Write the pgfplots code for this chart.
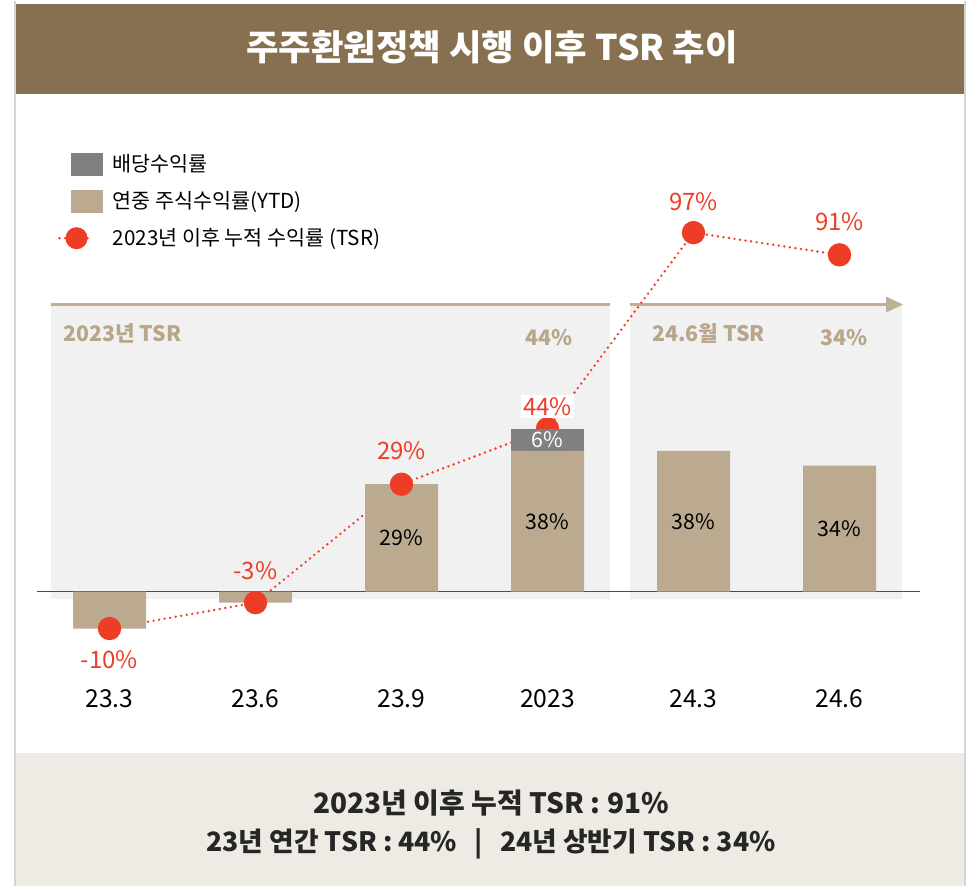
\documentclass[border=0pt]{standalone}
\usepackage{pgfplots}
\pgfplotsset{compat=1.18}
\usepackage{fontspec}
\setmainfont{Noto Sans CJK KR}
\definecolor{banner}{HTML}{87704F}
\definecolor{tanbar}{HTML}{BBAA90}
\definecolor{divgrey}{HTML}{808080}
\definecolor{tsrred}{HTML}{EE3D26}
\definecolor{panel}{HTML}{F1F1F1}
\definecolor{paneltext}{HTML}{B8A68A}
\definecolor{bottombox}{HTML}{EEEBE5}
\definecolor{arrowtan}{HTML}{C0AF95}
\definecolor{framegrey}{HTML}{D4D4D4}
\begin{document}
\begin{tikzpicture}
\begin{scope}[x=0.75pt,y=-0.75pt]
\path (0,0) rectangle (975,885);
\fill[banner] (15,3) rectangle (965,93);
\node[text=white, font=\fontsize{26.5}{31}\selectfont\bfseries] at (492,47) {주주환원정책 시행 이후 TSR 추이};
\fill[bottombox] (15,752) rectangle (965,885);
\draw[framegrey, line width=0.8pt] (15,0)--(15,885) (965,0)--(965,885);
\fill[panel] (51,305) rectangle (610,598);
\fill[panel] (630,305) rectangle (902,598);
\draw[arrowtan, line width=2.2pt] (51,304)--(610,304);
\draw[arrowtan, line width=2.2pt] (630,304)--(890,304);
\fill[arrowtan] (886,296)--(903,304)--(886,312)--cycle;
\node[anchor=west, inner sep=0pt, text=paneltext, font=\fontsize{16}{19}\selectfont\bfseries] at (63,333) {2023년 TSR};
\node[text=paneltext, font=\fontsize{16}{19}\selectfont\bfseries] at (549,337) {44\%};
\node[anchor=west, inner sep=0pt, text=paneltext, font=\fontsize{16}{19}\selectfont\bfseries] at (652,333) {24.6월 TSR};
\node[text=paneltext, font=\fontsize{16}{19}\selectfont\bfseries] at (844,337) {34\%};
\draw[black!70, line width=1.1pt] (37,591)--(920,591);
\node[text=black!85, font=\fontsize{21}{25}\selectfont\bfseries] at (491,802) {2023년 이후 누적 TSR : 91\%};
\node[text=black!85, font=\fontsize{20}{24}\selectfont\bfseries] at (491,843) {23년 연간 TSR : 44\%\hspace{13pt}|\hspace{13pt}24년 상반기 TSR : 34\%};
\end{scope}
\begin{axis}[
  at={(11.25pt,-564pt)}, anchor=south west,
  scale only axis, width=712.5pt, height=494.25pt,
  xmin=-0.6473, xmax=5.8596, ymin=-43.51, ymax=134.59,
  ybar stacked, bar width=54.75pt,
  axis line style={draw=none},
  ytick=\empty,
  xtick={0,1,2,3,4,5},
  xticklabels={23.3,23.6,23.9,2023,24.3,24.6},
  major tick length=0pt,
  xticklabel style={anchor=center, yshift=40.5pt, font=\fontsize{18.5}{22}\selectfont, text=black},
  clip=false,
  legend cell align=left,
  legend style={at={(0.05895,0.91047)}, anchor=north west, draw=none, fill=none,
    inner sep=0pt, row sep=11pt,
    nodes={inner sep=0pt, font=\fontsize{15.5}{18}\selectfont},
    /tikz/every odd column/.append style={column sep=7.5pt}},
]
\addlegendimage{legend image code/.code={\fill[divgrey] (0pt,-8.25pt) rectangle (23.25pt,8.25pt);}}
\addlegendentry{배당수익률}
\addlegendimage{legend image code/.code={\fill[tanbar] (0pt,-8.25pt) rectangle (23.25pt,8.25pt);}}
\addlegendentry{연중 주식수익률(YTD)}
\addlegendimage{legend image code/.code={\path[draw=none, fill=none] (0pt,-8.25pt) rectangle (23.25pt,8.25pt);
  \draw[overlay, tsrred, solid, line width=2pt, dash pattern=on 0pt off 4.2pt, line cap=round] (-9pt,0pt)--(16pt,0pt);
  \fill[overlay, tsrred, draw=none] (3.75pt,0pt) circle (8.25pt);}}
\addlegendentry{2023년 이후 누적 수익률 (TSR)}
% YTD stock return
\addplot[fill=tanbar, draw=none, forget plot] coordinates {(0,-10) (1,-3) (2,29) (3,38) (4,38) (5,34)};
% dividend yield
\addplot[fill=divgrey, draw=none, forget plot] coordinates {(0,0) (1,0) (2,0) (3,6) (4,0) (5,0)};
% cumulative TSR
\addplot[sharp plot, stack plots=false, forget plot, tsrred, line width=2pt, dash pattern=on 0pt off 4.2pt, line cap=round,
  mark=*, mark size=7.75pt, mark options={solid, draw=none, fill=tsrred}]
  coordinates {(0,-10) (1,-3) (2,29) (3,44) (4,97) (5,91)};
% label anchors
\coordinate (b2) at (axis cs:2,14.5);
\coordinate (b3) at (axis cs:3,19);
\coordinate (b4) at (axis cs:4,19);
\coordinate (b5) at (axis cs:5,17);
\coordinate (d3) at (axis cs:3,41);
\coordinate (t0) at (axis cs:0,-18.4);
\coordinate (t1) at (axis cs:1,5.7);
\coordinate (t2) at (axis cs:2,38.1);
\coordinate (t3) at (axis cs:3,50);
\coordinate (t4) at (axis cs:4,105.4);
\coordinate (t5) at (axis cs:5,100);
\end{axis}
% value labels drawn on top of the bars
\node[font=\fontsize{16}{19}\selectfont] at (b2) {29\%};
\node[font=\fontsize{16}{19}\selectfont] at (b3) {38\%};
\node[font=\fontsize{16}{19}\selectfont] at (b4) {38\%};
\node[font=\fontsize{16}{19}\selectfont] at (b5) {34\%};
\node[font=\fontsize{16}{19}\selectfont, text=white, fill=divgrey, inner sep=1pt, minimum height=17pt, minimum width=27pt] at (d3) {6\%};
\node[font=\fontsize{18}{21}\selectfont, text=tsrred] at (t0) {-10\%};
\node[font=\fontsize{18}{21}\selectfont, text=tsrred] at (t1) {-3\%};
\node[font=\fontsize{18}{21}\selectfont, text=tsrred] at (t2) {29\%};
\node[font=\fontsize{18}{21}\selectfont, text=tsrred, fill=white, inner sep=1.5pt] at (t3) {44\%};
\node[font=\fontsize{18}{21}\selectfont, text=tsrred] at (t4) {97\%};
\node[font=\fontsize{18}{21}\selectfont, text=tsrred] at (t5) {91\%};
\end{tikzpicture}
\end{document}
